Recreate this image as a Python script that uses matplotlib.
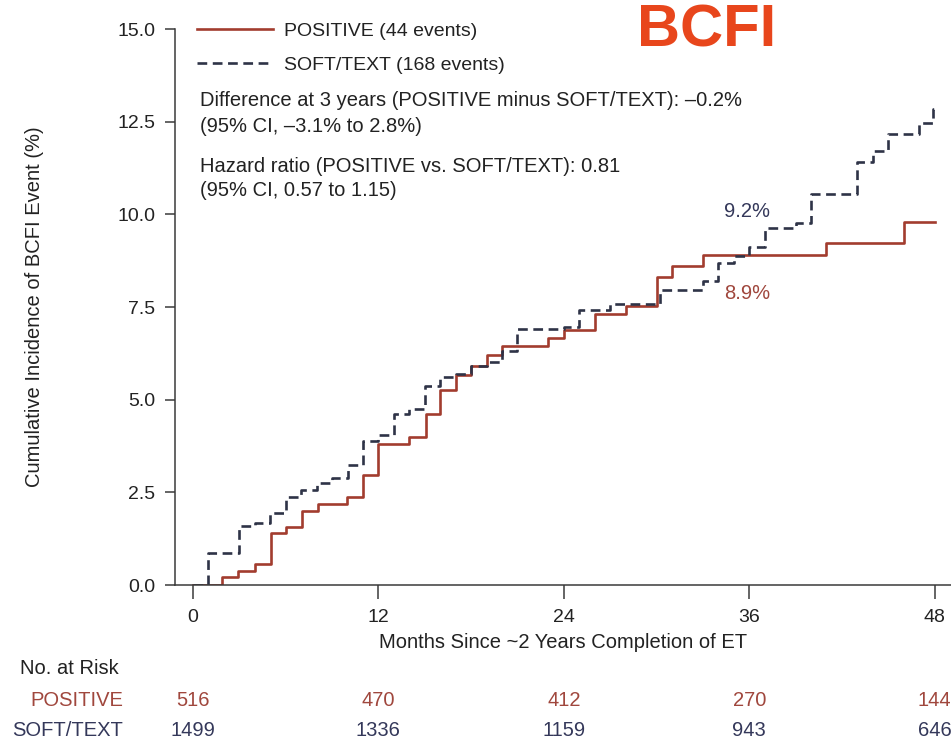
import matplotlib
matplotlib.use('Agg')
import matplotlib.pyplot as plt

plt.rcParams['font.family'] = ['Liberation Sans', 'DejaVu Sans']
plt.rcParams['lines.scale_dashes'] = False

# step data (months, cumulative incidence %)
pos_months = [0, 1.9, 2.9, 4.0, 5.05, 6.05, 7.05, 8.1, 9.95, 11.0, 12.0, 13.95, 15.05, 16.0,
              17.0, 18.0, 19.0, 20.0, 23.0, 24.0, 26.0, 28.0, 30.0, 31.0, 33.0, 41.0, 46.0, 48.0]
pos_values = [0, 0.22, 0.38, 0.56, 1.39, 1.57, 2.0, 2.18, 2.38, 2.96, 3.8, 3.99, 4.62, 5.25,
              5.67, 5.9, 6.2, 6.45, 6.66, 6.87, 7.31, 7.54, 8.32, 8.6, 8.9, 9.24, 9.8, 9.8]

st_months = [0, 1.0, 3.0, 4.0, 5.0, 6.0, 7.0, 8.0, 9.0, 10.0, 11.0, 12.0, 13.0, 14.0, 15.0,
             16.0, 17.0, 18.0, 19.0, 20.0, 21.0, 24.0, 25.0, 27.0, 30.2, 33.0, 34.0, 35.0,
             36.0, 37.0, 39.0, 40.0, 43.0, 44.0, 45.0, 47.0, 47.9, 48.0]
st_values = [0, 0.85, 1.6, 1.66, 1.95, 2.38, 2.56, 2.75, 2.88, 3.25, 3.88, 4.06, 4.62, 4.75, 5.38,
             5.6, 5.7, 5.92, 6.02, 6.3, 6.9, 6.95, 7.42, 7.58, 7.96, 8.2, 8.7, 8.88,
             9.12, 9.63, 9.76, 10.54, 11.4, 11.72, 12.16, 12.46, 12.85, 12.85]

risk_months = [0, 12, 24, 36, 48]
risk_pos = [516, 470, 412, 270, 144]
risk_st = [1499, 1336, 1159, 943, 646]

red = '#a23c2e'
navy = '#2e3347'
red_txt = '#a0473d'
navy_txt = '#34385a'
fs = 14.5

W, H = 951, 744
x0, y0 = 175, 585          # axes corner in pixels
fig = plt.figure(figsize=(W / 100, H / 100), dpi=100)
ax = fig.add_axes([x0 / W, 1 - y0 / H, 1 - x0 / W, (y0 - 29) / H])
aw, ah = W - x0, y0 - 29

ax.step(pos_months, pos_values, where='post', color=red, lw=1.9, label='POSITIVE (44 events)')
ax.step(st_months, st_values, where='post', color=navy, lw=1.9, dashes=(7, 4),
        label='SOFT/TEXT (168 events)')

ax.set_xlim(-1.165, 49.06)
ax.set_ylim(0, 15)
ax.set_xticks(risk_months)
ax.set_yticks([0, 2.5, 5, 7.5, 10, 12.5, 15])
ax.set_yticklabels(['0.0', '2.5', '5.0', '7.5', '10.0', '12.5', '15.0'])
for s in ['top', 'right']:
    ax.spines[s].set_visible(False)
for s in ['left', 'bottom']:
    ax.spines[s].set_color('#3a3a3a')
    ax.spines[s].set_linewidth(1.1)
ax.tick_params(axis='y', direction='out', length=7, width=1.1, color='#3a3a3a',
               labelsize=14, labelcolor='#222222', pad=7)
ax.tick_params(axis='x', direction='out', length=10, width=1.1, color='#3a3a3a',
               labelsize=14, labelcolor='#222222', pad=7)
ax.set_xlabel('Months Since ~2 Years Completion of ET', fontsize=fs, color='#222222', va='center')
ax.xaxis.set_label_coords((563 - x0) / aw, (y0 - 643) / ah)
ax.set_ylabel('Cumulative Incidence of BCFI Event (%)', fontsize=fs, color='#222222', va='center')
ax.yaxis.set_label_coords((35 - x0) / aw, 0.5)

leg = ax.legend(loc='upper left', bbox_to_anchor=((197 - x0) / aw, 1 + 7 / ah), frameon=False,
                fontsize=14, handlelength=3.9, handletextpad=0.55, labelspacing=0.85,
                borderaxespad=0, borderpad=0)
for t in leg.get_texts():
    t.set_color('#222222')

txt_kw = dict(transform=fig.transFigure, fontsize=fs, color='#222222', va='center', ha='left')
fig.text(200 / W, 1 - 101 / H, 'Difference at 3 years (POSITIVE minus SOFT/TEXT): \u20130.2%', **txt_kw)
fig.text(200 / W, 1 - 126 / H, '(95% CI, \u20133.1% to 2.8%)', **txt_kw)
fig.text(200 / W, 1 - 166 / H, 'Hazard ratio (POSITIVE vs. SOFT/TEXT): 0.81', **txt_kw)
fig.text(200 / W, 1 - 191 / H, '(95% CI, 0.57 to 1.15)', **txt_kw)

ax.text(37.35, 10.08, '9.2%', fontsize=fs, color=navy_txt, ha='right', va='center')
ax.text(37.35, 7.87, '8.9%', fontsize=fs, color=red_txt, ha='right', va='center')

fig.text(707 / W, 1 - 31 / H, 'BCFI', fontsize=43, fontweight='bold', color='#e8461c',
         ha='center', va='center')

# number at risk table
fig.text(20 / W, 1 - 668 / H, 'No. at Risk', fontsize=fs, color='#222222', va='center')
fig.text(123 / W, 1 - 700 / H, 'POSITIVE', fontsize=fs, color=red_txt, va='center', ha='right')
fig.text(123 / W, 1 - 731 / H, 'SOFT/TEXT', fontsize=fs, color=navy_txt, va='center', ha='right')
for m, p, s in zip(risk_months, risk_pos, risk_st):
    ax.annotate(str(p), xy=(m, 0), xycoords=('data', 'figure fraction'),
                xytext=(m, 1 - 700 / H), textcoords=('data', 'figure fraction'),
                fontsize=fs, color=red_txt, ha='center', va='center', annotation_clip=False)
    ax.annotate(str(s), xy=(m, 0), xycoords=('data', 'figure fraction'),
                xytext=(m, 1 - 731 / H), textcoords=('data', 'figure fraction'),
                fontsize=fs, color=navy_txt, ha='center', va='center', annotation_clip=False)

fig.savefig('out.png', dpi=100, facecolor='white')
